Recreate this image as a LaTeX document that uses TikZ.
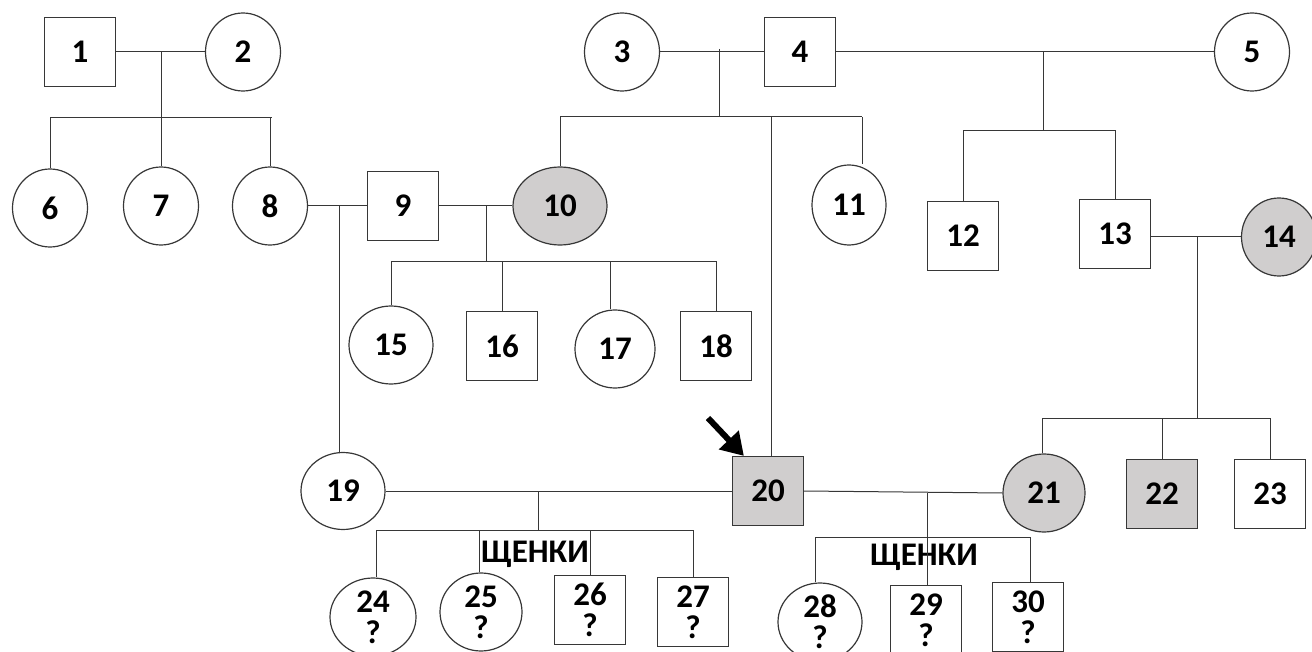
\documentclass[tikz,border=0pt]{standalone}
\usepackage{fontspec}
\setmainfont{Carlito}
\usetikzlibrary{shapes.geometric,arrows.meta}
\definecolor{aff}{RGB}{208,206,206}
\definecolor{ln}{RGB}{55,55,55}
\begin{document}
\begin{tikzpicture}[x=1pt,y=-1pt,
  every node/.style={font=\fontsize{33}{31}\selectfont\bfseries, text=black, inner sep=0pt},
  male/.style={draw=ln, line width=1.2pt, rectangle, minimum width=71pt, minimum height=69pt},
  female/.style={draw=ln, line width=1.2pt, ellipse, minimum width=75pt, minimum height=78pt},
  affected/.style={fill=aff},
  link/.style={draw=ln, line width=1pt},
  pup/.style={align=center},
  lbl/.style={font=\fontsize{33}{31}\selectfont\bfseries}]
\clip (0,0) rectangle (1312,652);
\useasboundingbox (0,0) rectangle (1312,652);
% generation I
\node[male] (n1) at (80,52) {1};
\node[female] (n2) at (243,52) {2};
\node[female] (n3) at (622,52) {3};
\node[male] (n4) at (800,52) {4};
\node[female] (n5) at (1252,52) {5};
% generation II
\node[female] (n6) at (50,208) {6};
\node[female] (n7) at (161,206) {7};
\node[female] (n8) at (270,206) {8};
\node[male] (n9) at (403,206) {9};
\node[female,affected,minimum width=94pt] (n10) at (560,206) {10};
\node[female,minimum width=74pt,minimum height=80pt] (n11) at (849,205) {11};
\node[male] (n12) at (963,236) {12};
\node[male] (n13) at (1115,234) {13};
\node[female,affected] (n14) at (1279,237) {14};
% generation III
\node[female,minimum width=84pt] (n15) at (391,345) {15};
\node[male] (n16) at (502,346) {16};
\node[female,minimum width=80pt] (n17) at (615,349) {17};
\node[male] (n18) at (716,346) {18};
\node[female,minimum width=84pt,minimum height=77pt] (n19) at (343,491) {19};
\node[male,affected] (n20) at (768,491) {20};
\node[female,affected,minimum width=82pt] (n21) at (1044,493) {21};
\node[male,affected] (n22) at (1162,494) {22};
\node[male] (n23) at (1270,494) {23};
% generation IV
\node[female,pup,minimum width=86pt] (n24) at (373,617) {24\\?};
\node[female,pup,minimum width=82pt] (n25) at (481,612) {25\\?};
\node[male,pup] (n26) at (590,610) {26\\?};
\node[male,pup] (n27) at (693,612) {27\\?};
\node[female,pup,minimum width=84pt] (n28) at (820,622) {28\\?};
\node[male,pup] (n29) at (926,620) {29\\?};
\node[male,pup] (n30) at (1028,617) {30\\?};
\node[lbl] (t1) at (535,554) {ЩЕНКИ};
\node[lbl] (t2) at (924,557) {ЩЕНКИ};
% junction coordinates
\coordinate (j12) at (161,52);   \coordinate (k12) at (161,118);
\coordinate (j34) at (719,49);   \coordinate (k34) at (719,117);
\coordinate (j45) at (1043,52);  \coordinate (k45) at (1043,131);
\coordinate (j89) at (339,206);
\coordinate (j910) at (486,206); \coordinate (k910) at (486,262);
\coordinate (j1314) at (1197,237); \coordinate (k1314) at (1197,418);
\coordinate (j1920) at (538,491); \coordinate (k1920) at (538,530);
\coordinate (j2021) at (927,493); \coordinate (k2021) at (927,537);
\coordinate (d11) at (862,117);
\coordinate (d20) at (771,117);
% family 1-2
\draw[link] (n1.east) -- (n2.west);
\draw[link] (j12) -- (k12);
\draw[link] (n6.north) -- (n6.north |- k12) -- (272,118 |- k12) coordinate (e12);
\draw[link] (n7.north) -- (n7.north |- k12);
\draw[link] (n8.north) -- (n8.north |- k12);
% family 3-4
\draw[link] (n3.east) -- (n4.west);
\draw[link] (j34) -- (k34);
\draw[link] (n10.north) -- (n10.north |- k34) -- (d11);
\draw[link] (d11) -- (n11.north -| d11);
\draw[link] (d20) -- (d20 |- n20.north);
% family 4-5
\draw[link] (n4.east) -- (n5.west);
\draw[link] (j45) -- (k45);
\draw[link] (n12.north) -- (n12.north |- k45) -| (n13.north);
% family 8-9
\draw[link] (n8.east) -- (n9.west);
\draw[link] (j89) -- (j89 |- n19.north);
% family 9-10
\draw[link] (n9.east) -- (n10.west);
\draw[link] (j910) -- (k910);
\draw[link] (n15.north) -- (n15.north |- k910) -| (n18.north);
\draw[link] (n16.north) -- (n16.north |- k910);
\draw[link] (610,262) coordinate (d17) -- (d17 |- n17.north);
% family 13-14
\draw[link] (n13.east |- j1314) -- (n14.west |- j1314);
\draw[link] (j1314) -- (k1314);
\draw[link] (1042,418) coordinate (d21) -- (d21 |- n21.north);
\draw[link] (d21) -| (n23.north);
\draw[link] (n22.north) -- (n22.north |- k1314);
% family 19-20
\draw[link] (n19.east) -- (n20.west);
\draw[link] (j1920) -- (k1920);
\draw[link] (376,530) coordinate (d24) -- (d24 |- n24.north);
\draw[link] (d24) -| (n27.north);
\draw[link] (479,530) coordinate (d25) -- (d25 |- n25.north);
\draw[link] (n26.north) -- (n26.north |- k1920);
% family 20-21
\draw[link] (n20.east) -- (n21.west);
\draw[link] (j2021) -- (j2021 |- n29.north);
\draw[link] (815,537) coordinate (d28) -- (d28 |- n28.north);
\draw[link] (d28) -- (1030,537) coordinate (d30) -- (d30 |- n30.north);
% proband arrow
\coordinate (a0) at (708,418);
\draw[line width=6pt, black, -{Triangle[length=22pt,width=26pt]}] (a0) -- ([shift={(12pt,0pt)}]n20.north west);
\end{tikzpicture}
\end{document}
